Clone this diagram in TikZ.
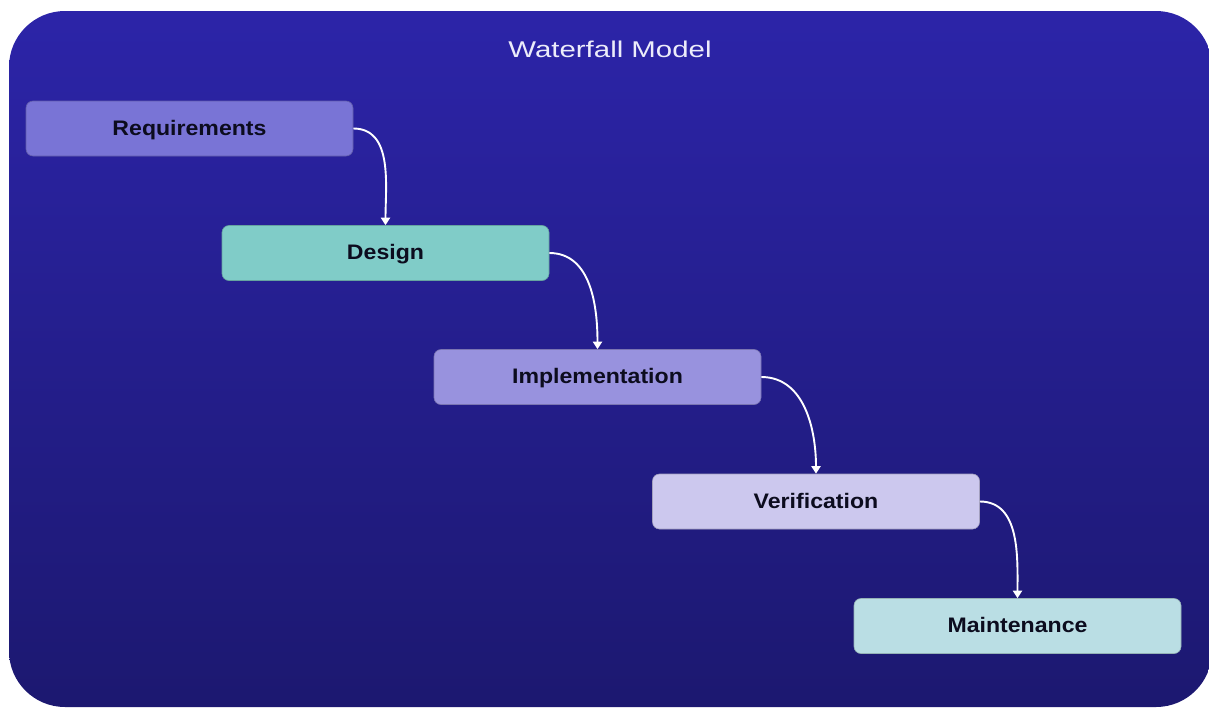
\documentclass[tikz,border=0pt]{standalone}
\usepackage{fontspec}
\setmainfont{Liberation Sans}
\usetikzlibrary{arrows.meta}
\definecolor{bgtop}{RGB}{44,36,168}
\definecolor{bgbot}{RGB}{28,24,112}
\definecolor{creq}{RGB}{121,116,214}
\definecolor{cdes}{RGB}{128,204,200}
\definecolor{cimp}{RGB}{152,146,222}
\definecolor{cver}{RGB}{204,200,238}
\definecolor{cmai}{RGB}{186,222,228}
\definecolor{ctxt}{RGB}{12,12,30}
\definecolor{ctitle}{RGB}{236,236,250}
\tikzset{
  phase/.style={rounded corners=7pt, minimum width=327pt, minimum height=55pt,
    inner sep=0pt, text height=13.5pt, text depth=0pt, text=ctxt,
    draw=#1!80!black, line width=0.6pt, fill=#1,
    font=\fontsize{21}{25}\selectfont\bfseries},
  flow/.style={draw=white, line width=1.9pt, -{Triangle[length=7.5pt,width=9pt]}},
}
\newcommand{\wx}[2]{\scalebox{#1}[1]{#2}}
\begin{document}
\begin{tikzpicture}[x=1pt,y=-1pt]
\useasboundingbox (0,0) rectangle (1209,707);
\fill[white] (0,0) rectangle (1209,707);
\shade[top color=bgtop, bottom color=bgbot, rounded corners=56pt]
  (9,11) rectangle (1212,707);
\node (title) at (610,49) {\color{ctitle}\fontsize{22.8}{26}\selectfont\wx{1.29}{Waterfall Model}};
\node[phase=creq] (req) at (189.5,128.5) {\wx{1.1}{Requirements}};
\node[phase=cdes] (des) at (385.5,253) {\wx{1.1}{Design}};
\node[phase=cimp] (imp) at (597.5,377) {\wx{1.1}{Implementation}};
\node[phase=cver] (ver) at (816,501.5) {\wx{1.1}{Verification}};
\node[phase=cmai] (mai) at (1017.5,626) {\wx{1.1}{Maintenance}};
\draw[flow] (req.east) to[out=0,in=90] (des.north);
\draw[flow] (des.east) to[out=0,in=90] (imp.north);
\draw[flow] (imp.east) to[out=0,in=90] (ver.north);
\draw[flow] (ver.east) to[out=0,in=90] (mai.north);
\end{tikzpicture}
\end{document}
